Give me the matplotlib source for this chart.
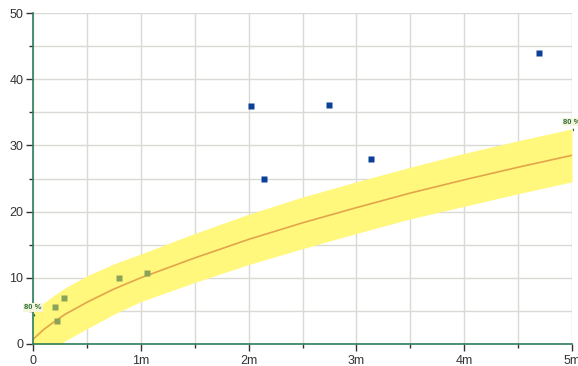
"""Power-law fit with 80% band and two groups of observed points."""

import matplotlib
matplotlib.use("agg")
import matplotlib.pyplot as plt
from matplotlib.ticker import FixedLocator, MultipleLocator

# Fitted curve and 80% band
fit_x = [0, 0.1, 0.2, 0.3, 0.5, 0.75, 1.0, 1.5, 2.0, 2.5, 3.0, 3.5, 4.0, 4.5, 5.0]
fit_y = [0.7, 2.2, 3.4, 4.5, 6.3, 8.3, 10.0, 13.0, 15.8, 18.3, 20.6, 22.8, 24.8, 26.7, 28.5]
band_hi = [4.7, 6.2, 7.4, 8.5, 10.3, 12.1, 13.6, 16.7, 19.6, 22.2, 24.5, 26.7, 28.8, 30.7, 32.5]
band_lo = [-3.3, -1.8, -0.6, 0.5, 2.3, 4.5, 6.4, 9.3, 12.0, 14.4, 16.7, 18.9, 20.8, 22.7, 24.5]

# Observed points
green_x = [0.20, 0.22, 0.29, 0.80, 1.06]
green_y = [5.6, 3.5, 6.9, 10.0, 10.8]
blue_x = [2.02, 2.14, 2.75, 3.14, 4.69]
blue_y = [36.0, 24.9, 36.1, 27.9, 44.0]

x_ticks = [0, 1, 2, 3, 4, 5]
x_labels = ["0", "1m", "2m", "3m", "4m", "5m"]
y_ticks = [0, 10, 20, 30, 40, 50]

band_label = "80 %"
band_label_y = 5.0

AXIS_GREEN = "#2f7d5c"

plt.rcParams["font.family"] = ["Liberation Sans", "DejaVu Sans"]

fig = plt.figure(figsize=(5.78, 3.66), dpi=100)
ax = fig.add_axes([33 / 578, 22 / 366, 539 / 578, 331 / 366])

ax.fill_between(fit_x, band_lo, band_hi, color="#fff87c", lw=0, zorder=1)
ax.plot(fit_x, fit_y, color="#e3a54a", lw=1.2, zorder=2)

ax.plot(green_x, green_y, "s", color="#8aa35a", ms=4.5, mec="none", zorder=3)
ax.plot(blue_x, blue_y, "s", color="#0b3f98", ms=4.5, mec="none", zorder=3)

# 80% markers at both ends of the band
for bx, by in [(fit_x[0], band_label_y), (fit_x[-1], band_hi[-1] + 0.5)]:
    ax.annotate(
        band_label, xy=(bx + 0.02, by - 1.2), xytext=(bx, by),
        ha="center", va="bottom", fontsize=5.5, fontweight="bold",
        color="#2f6a3c", zorder=5, annotation_clip=False,
        bbox=dict(boxstyle="square,pad=0.1", fc="#f4f7dc", ec="none"),
        arrowprops=dict(arrowstyle="-", color="#2f6a3c", lw=0.8),
    )

ax.set_xlim(0, 5)
ax.set_ylim(0, 50)

ax.xaxis.set_major_locator(FixedLocator(x_ticks))
ax.set_xticklabels(x_labels)
ax.xaxis.set_minor_locator(MultipleLocator(0.5))
ax.yaxis.set_major_locator(FixedLocator(y_ticks))
ax.yaxis.set_minor_locator(MultipleLocator(5))

ax.grid(True, which="both", color="#d9d9d6", lw=1, zorder=0)
ax.set_axisbelow(True)

for side in ["top", "right"]:
    ax.spines[side].set_visible(False)
for side in ["left", "bottom"]:
    ax.spines[side].set_color(AXIS_GREEN)
    ax.spines[side].set_linewidth(1.2)

ax.tick_params(which="both", direction="out", color="#333333", width=1,
               labelsize=9, labelcolor="#333333")
ax.tick_params(which="major", length=5)
ax.tick_params(which="minor", length=3)
ax.tick_params(axis="x", pad=3)
ax.tick_params(axis="y", pad=2)

fig.savefig("out.png", dpi=100)
